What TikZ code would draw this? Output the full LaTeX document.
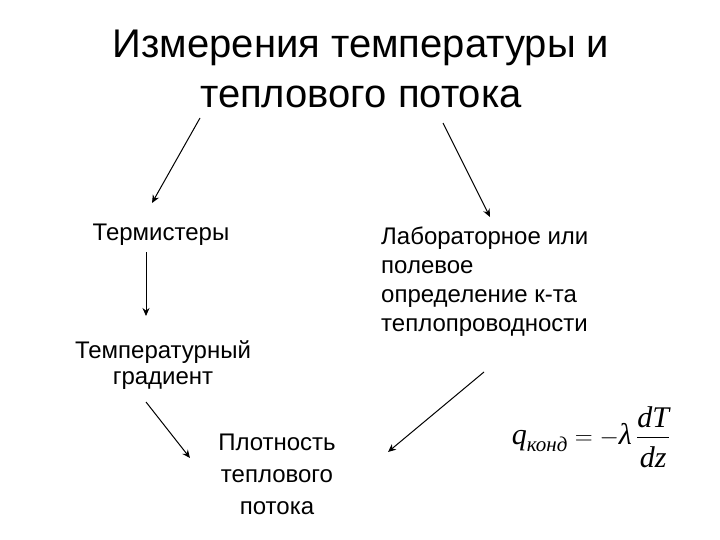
\documentclass[tikz,border=0pt]{standalone}
\usepackage{amsmath}
\usepackage{fontspec}
\setmainfont{Liberation Sans}
\newfontfamily\serif{Liberation Serif}
\usetikzlibrary{arrows.meta}
\begin{document}
\begin{tikzpicture}[x=1pt,y=-1pt,
  lbl/.style={inner sep=0pt,align=center,font=\fontsize{24}{29}\selectfont},
  conn/.style={-{Stealth[length=8pt,width=7pt]},line width=1pt}]
\useasboundingbox (0,0) rectangle (720,540);
\node[inner sep=0pt,align=center,font=\fontsize{40}{50}\selectfont] (title) at (361,69) {Измерения температуры и\\теплового потока};
\node[lbl] (term) at (161,235) {Термистеры};
\node[lbl,font=\fontsize{24}{26}\selectfont] (grad) at (163,365) {Температурный\\градиент};
\node[lbl,font=\fontsize{24}{32}\selectfont] (plot) at (277,474) {Плотность\\теплового\\потока};
\node[lbl,align=left,anchor=north west] (lab) at (381,227) {Лабораторное или\\полевое\\определение к-та\\теплопроводности};
\node[inner sep=0pt,font=\fontsize{30}{36}\selectfont] (form) at (591,437)
  {$\displaystyle \text{\serif\itshape q}_{\text{\serif\itshape конд}}=-\text{\serif\itshape λ}\,\frac{\text{\serif\itshape dT}\rule[-4pt]{0pt}{4pt}}{\text{\serif\itshape dz}\rule{0pt}{26pt}}$};
\coordinate (a1s) at (200,118); \coordinate (a1e) at (152,203);
\coordinate (a2s) at (443,123); \coordinate (a2e) at (490,217);
\coordinate (a3s) at (146,252); \coordinate (a3e) at (146,316);
\coordinate (a4s) at (146,402); \coordinate (a4e) at (190,458);
\coordinate (a5s) at (484,372); \coordinate (a5e) at (388,452);
\draw[conn] (a1s) -- (a1e);
\draw[conn] (a2s) -- (a2e);
\draw[conn] (a3s) -- (a3e);
\draw[conn] (a4s) -- (a4e);
\draw[conn] (a5s) -- (a5e);
\end{tikzpicture}
\end{document}
